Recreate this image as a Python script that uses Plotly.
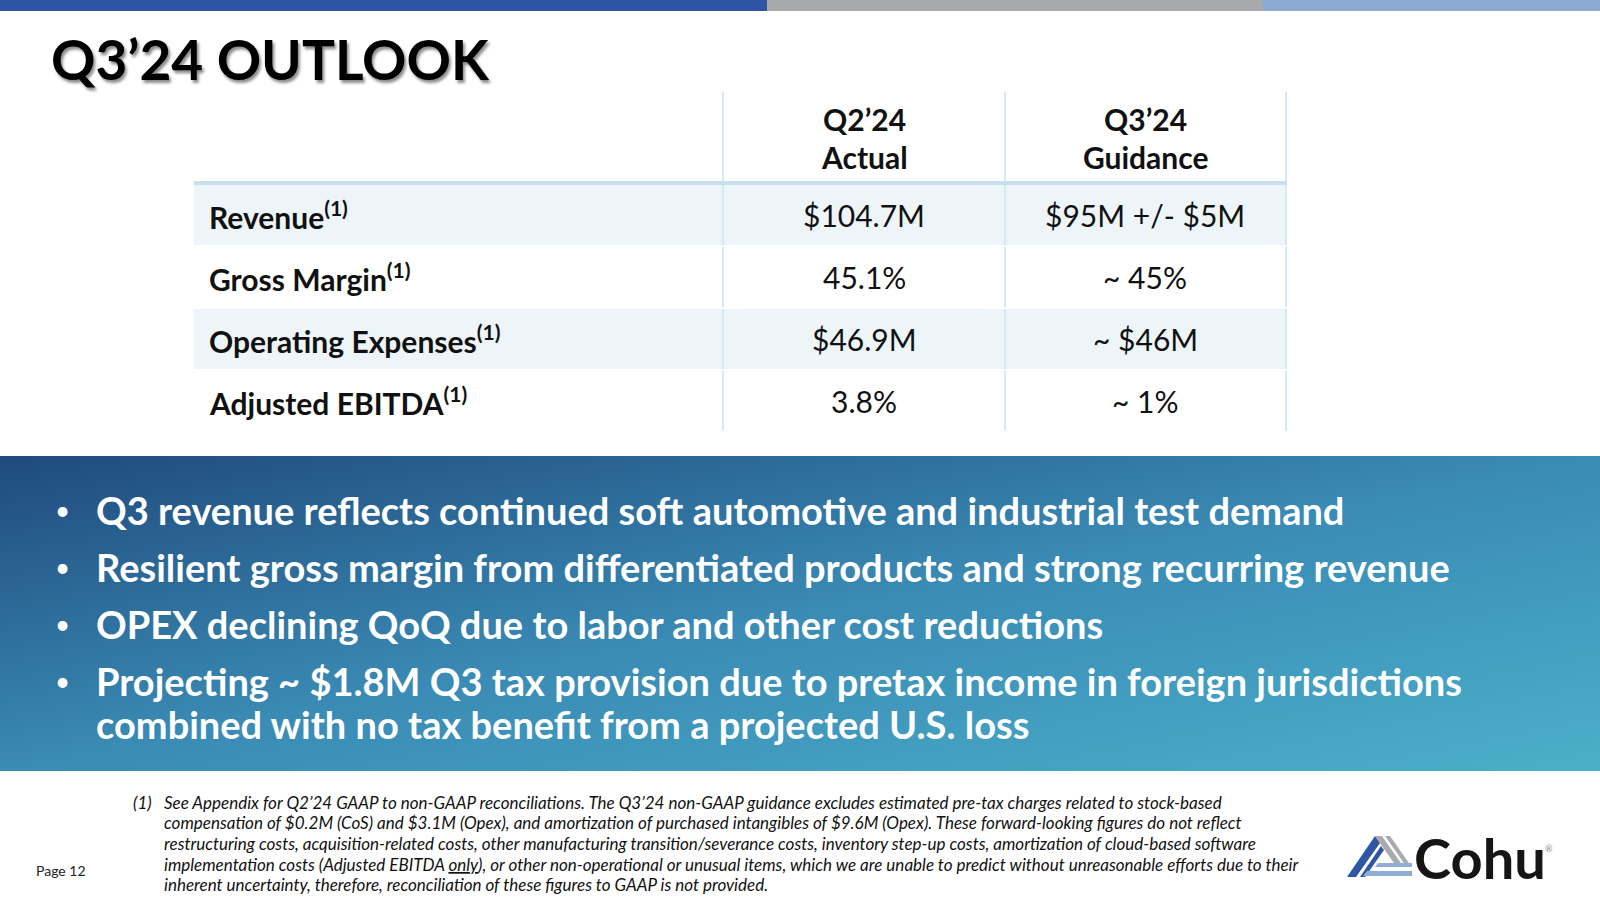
import base64
import plotly.graph_objects as go

# ---------------- data ----------------
title_text = "Q3’24 OUTLOOK"
col_headers = [["Q2’24", "Actual"], ["Q3’24", "Guidance"]]
metrics = ["Revenue", "Gross Margin", "Operating Expenses", "Adjusted EBITDA"]
q2_actual = ["$104.7M", "45.1%", "$46.9M", "3.8%"]
q3_guidance = ["$95M +/- $5M", "~ 45%", "~ $46M", "~ 1%"]
bullets = [
    ["Q3 revenue reflects continued soft automotive and industrial test demand"],
    ["Resilient gross margin from differentiated products and strong recurring revenue"],
    ["OPEX declining QoQ due to labor and other cost reductions"],
    ["Projecting ~ $1.8M Q3 tax provision due to pretax income in foreign jurisdictions",
     "combined with no tax benefit from a projected U.S. loss"],
]
footnote_lines = [
    "See Appendix for Q2’24 GAAP to non-GAAP reconciliations. The Q3’24 non-GAAP guidance excludes estimated pre-tax charges related to stock-based",
    "compensation of $0.2M (CoS) and $3.1M (Opex), and amortization of purchased intangibles of $9.6M (Opex). These forward-looking figures do not reflect",
    "restructuring costs, acquisition-related costs, other manufacturing transition/severance costs, inventory step-up costs, amortization of cloud-based software",
    "implementation costs (Adjusted EBITDA <span style='text-decoration:underline'>only</span>), or other non-operational or unusual items, which we are unable to predict without unreasonable efforts due to their",
    "inherent uncertainty, therefore, reconciliation of these figures to GAAP is not provided.",
]
page_label = "Page 12"

# ---------------- layout helpers ----------------
W, H = 1600, 900
def X(p):
    return p / W
def Y(p):
    return 1 - p / H

FONT = "Lato"
shapes = []
ann = []
images = []

def rect(x0, y0, x1, y1, color, layer="below"):
    shapes.append(dict(type="rect", xref="paper", yref="paper",
                       x0=X(x0), x1=X(x1), y0=Y(y1), y1=Y(y0),
                       fillcolor=color, line=dict(width=0), layer=layer))

def text(x, y, s, size, color="#000", xanchor="left", weight="normal",
         style="normal", family=FONT, shadow=None, yanchor="middle"):
    f = dict(family=family, size=size, color=color, weight=weight, style=style)
    if shadow:
        f["shadow"] = shadow
    ann.append(dict(x=X(x), y=Y(y), xref="paper", yref="paper", text=s,
                    showarrow=False, xanchor=xanchor, yanchor=yanchor,
                    font=f, align="center" if xanchor == "center" else "left"))

# top colour bar
rect(0, 0, 767, 11, "#2E55A5")
rect(767, 0, 1263, 11, "#A7A9AC")
rect(1263, 0, 1600, 11, "#8CA9D3")

# title
text(49, 59, title_text, 55, "#000", weight="bold",
     shadow="2px 3px 3px rgba(0,0,0,0.45)")

# ---------------- table ----------------
tbl_x0, tbl_x1 = 194, 1286
col_lines = [723, 1005, 1286]
col_centers = [864, 1145]
hdr_top, hdr_line = 92, 183
row_top0, row_h, row_gap = 185, 60, 2
line_col = "#D5E8F3"

for i in range(len(metrics)):
    y0 = row_top0 + i * (row_h + row_gap)
    if i % 2 == 0:
        rect(tbl_x0, y0, tbl_x1, y0 + row_h, "#EDF5F9")
table_bottom = row_top0 + len(metrics) * (row_h + row_gap) - row_gap

for cx in col_lines:
    rect(cx - 1, hdr_top, cx + 1, table_bottom, line_col)
# white gaps between rows
for i in range(1, len(metrics)):
    y0 = row_top0 + i * (row_h + row_gap) - row_gap
    rect(tbl_x0, y0, tbl_x1 + 2, y0 + row_gap, "#FFFFFF")
# header rule
rect(tbl_x0, hdr_line - 2, tbl_x1 + 1, hdr_line + 2, "#C6E0EF")

for cx, hl in zip(col_centers, col_headers):
    for k, h in enumerate(hl):
        text(cx, 119 + k * 38, h, 30, "#111", xanchor="center", weight="bold")

for i, (m, a, g) in enumerate(zip(metrics, q2_actual, q3_guidance)):
    cy = row_top0 + i * (row_h + row_gap) + row_h / 2
    text(207, cy, m + "<sup>(1)</sup>", 30, "#111", weight="bold")
    text(col_centers[0], cy, a, 30, "#111", xanchor="center")
    text(col_centers[1], cy, g, 30, "#111", xanchor="center")

# ---------------- gradient band ----------------
svg = ("<svg xmlns='http://www.w3.org/2000/svg' width='1600' height='315' "
       "viewBox='0 0 1600 315' preserveAspectRatio='none'>"
       "<defs><linearGradient id='g' x1='0' y1='0' x2='1' y2='1'>"
       "<stop offset='0' stop-color='#1F4A7C'/>"
       "<stop offset='0.5' stop-color='#3A8BB5'/>"
       "<stop offset='1' stop-color='#4BB0C9'/>"
       "</linearGradient></defs>"
       "<rect width='1600' height='315' fill='url(#g)'/></svg>")
src = "data:image/svg+xml;base64," + base64.b64encode(svg.encode()).decode()
band_top, band_bot = 456, 771
images.append(dict(source=src, xref="paper", yref="paper", x=0, y=Y(band_top),
                   sizex=1, sizey=(band_bot - band_top) / H, xanchor="left",
                   yanchor="top", sizing="stretch", layer="below"))

y = 510
for b in bullets:
    text(53, y, "•", 26, "#FFFFFF")
    for k, ln in enumerate(b):
        text(94, y, ln, 38, "#FFFFFF", weight="bold")
        if k < len(b) - 1:
            y += 43
    y += 57

# ---------------- footnote ----------------
text(131, 802, "(1)", 17, "#111", style="italic")
for k, ln in enumerate(footnote_lines):
    text(162, 802 + k * 20.7, ln, 17, "#111", style="italic")
text(34, 870, page_label, 14, "#222")

# ---------------- logo ----------------
def poly(pts, color):
    p = "M " + " L ".join(f"{X(a):.5f},{Y(b):.5f}" for a, b in pts) + " Z"
    shapes.append(dict(type="path", xref="paper", yref="paper", path=p,
                       fillcolor=color, line=dict(width=0), layer="above"))

blue, gray, lblue = "#2F55A5", "#A8AAAD", "#8FADD7"
poly([(1347, 877), (1356, 877), (1380, 843), (1375, 836)], blue)
poly([(1360, 877), (1365, 877), (1384, 850), (1381, 846)], blue)
poly([(1375, 836), (1382, 836), (1403, 866), (1396, 866)], gray)
poly([(1385, 836), (1390, 836), (1411, 866), (1406, 866)], gray)
poly([(1378, 863), (1412, 863), (1412, 867), (1375, 867)], lblue)
poly([(1367, 871), (1412, 871), (1412, 876), (1363, 876)], lblue)
text(1412, 857, "Cohu", 56, "#151515", weight="bold")
text(1543, 848, "®", 9, "#888")

fig = go.Figure()
fig.update_layout(width=W, height=H, margin=dict(l=0, r=0, t=0, b=0),
                  paper_bgcolor="#FFFFFF", plot_bgcolor="#FFFFFF",
                  xaxis=dict(visible=False, range=[0, 1]),
                  yaxis=dict(visible=False, range=[0, 1]),
                  shapes=shapes, annotations=ann, images=images,
                  showlegend=False)
fig.write_html("out.html", config={"displayModeBar": False},
               post_script="document.body.style.margin='0';document.body.style.padding='0';")
